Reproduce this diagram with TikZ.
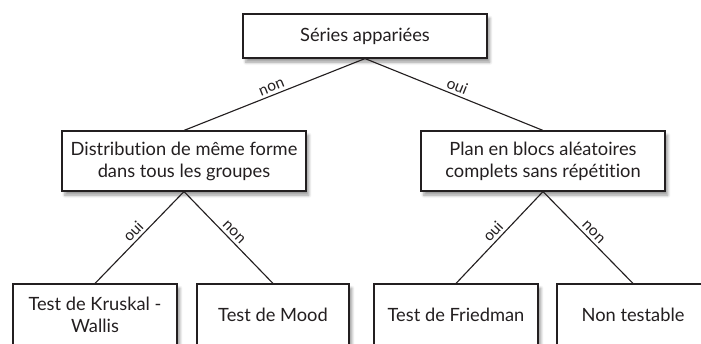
\documentclass[tikz,border=0pt]{standalone}
\usepackage{fontspec}
\setmainfont{Lato}[Ligatures={NoCommon, NoRare, NoContextual}]
\usepackage{tikz}
\usetikzlibrary{positioning, shadows.blur}
\definecolor{inkgray}{RGB}{35, 31, 32}
\tikzset{
  qbox/.style={draw=inkgray, fill=white, line width=0.8pt, align=center, text=inkgray,
    font=\fontsize{13}{15.6}\selectfont, inner sep=2pt,
    blur shadow={shadow xshift=2pt, shadow yshift=-3pt, shadow blur steps=6, shadow opacity=40}},
  rootnode/.style={qbox, minimum width=6.1cm, minimum height=1.1cm},
  critnode/.style={qbox, minimum width=6.1cm, minimum height=1.5cm},
  testnode/.style={qbox, minimum width=4.1cm, minimum height=1.55cm},
  endnode/.style={qbox, minimum width=3.8cm, minimum height=1.55cm},
  branch/.style={draw=inkgray, line width=0.8pt},
  elabel/.style={midway, sloped, above, inner sep=2pt, text=inkgray, font=\fontsize{11}{13}\selectfont},
}

\begin{document}
\begin{tikzpicture}[x=0.025cm, y=-0.025cm]
  \useasboundingbox (0,0) rectangle (701,343);
  \clip (0,0) rectangle (701,343);
  % question boxes
  \node[rootnode] (series) at (365,36) {Séries appariées};
  \node[critnode] (forme) at (184,161) {Distribution de même forme\\dans tous les groupes};
  \node[critnode] (plan) at (543,161) {Plan en blocs aléatoires\\complets sans répétition};
  % tests
  \node[testnode] (kruskal) at (95,315) {Test de Kruskal -\\Wallis};
  \node[endnode] (mood) at (273,315) {Test de Mood};
  \node[testnode] (friedman) at (456,315) {Test de Friedman};
  \node[endnode] (nontest) at (633,315) {Non testable};
  % branches
  \draw[branch] (series.south) -- node[elabel] {non} (forme.north);
  \draw[branch] (series.south) -- node[elabel] {oui} (plan.north);
  \draw[branch] (forme.south) -- node[elabel] {oui} (kruskal.north);
  \draw[branch] (forme.south) -- node[elabel] {non} (mood.north);
  \draw[branch] (plan.south) -- node[elabel] {oui} (friedman.north);
  \draw[branch] (plan.south) -- node[elabel] {non} (nontest.north);
\end{tikzpicture}
\end{document}
